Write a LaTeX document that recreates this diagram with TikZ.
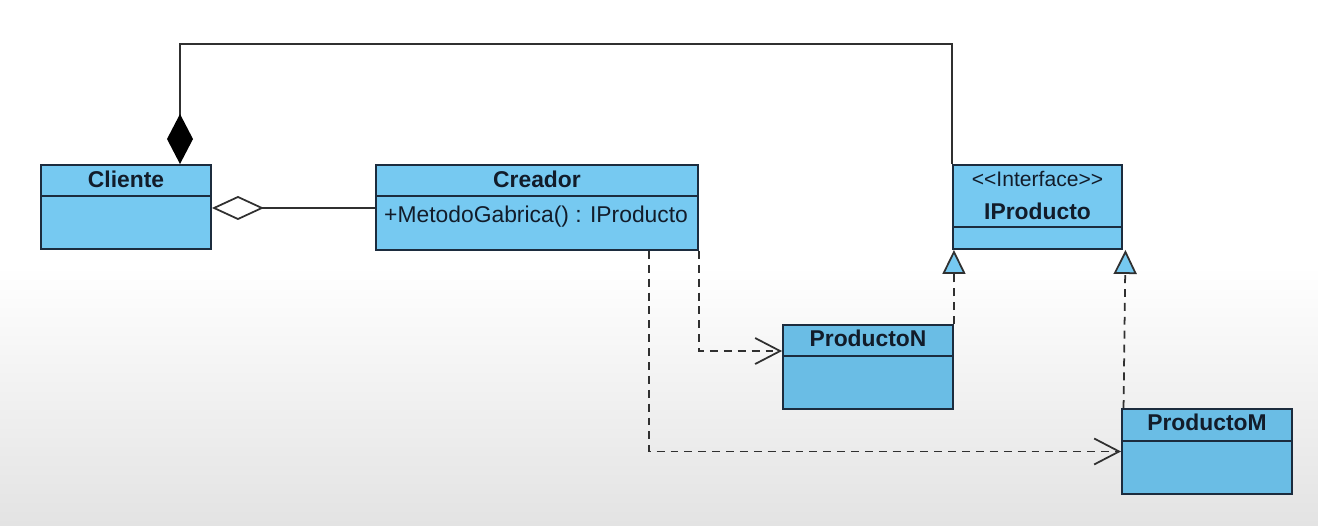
\documentclass[tikz,border=0pt]{standalone}
\usepackage{fontspec}
\setmainfont{Liberation Sans}
\usetikzlibrary{arrows.meta}
\definecolor{umlFond}{RGB}{118,201,241}
\definecolor{umlFondBas}{RGB}{106,189,229}
\definecolor{umlTrait}{RGB}{28,44,62}
\definecolor{umlTexte}{RGB}{18,28,42}
\definecolor{umlLien}{RGB}{48,48,48}

\begin{document}
\begin{tikzpicture}[
  x=1cm, y=1cm, every node/.style={font=\fontsize{13}{15}\selectfont},
  cls/.style={draw=umlTrait, line width=1.1pt, fill=umlFond, inner sep=0pt,
              minimum width=3.4cm, minimum height=1.68cm},
  clsbas/.style={cls, fill=umlFondBas},
  titre/.style={font=\fontsize{13}{15}\selectfont\bfseries, text=umlTexte},
  sep/.style={draw=umlTrait, line width=1.1pt},
  lien/.style={line width=1pt, draw=umlLien},
  dep/.style={lien, dash pattern=on 4.5pt off 3.4pt,
              -{Straight Barb[length=5mm, width=5.2mm]}},
  real/.style={lien, dash pattern=on 4.5pt off 3.4pt,
               -{Triangle[fill=umlFond, length=4.8mm, width=4.6mm]}}
]
% Fond : blanc en haut, degrade gris vers le bas.
\fill[white] (0,0) rectangle (26.36,10.52);
\shade[top color=white, bottom color=black!11] (0,0) rectangle (26.36,5.2);
\useasboundingbox (0,0) rectangle (26.36,10.52);

% Classes
\node[cls] (cliente) at (2.52,6.38) {};
\node[cls, minimum width=6.44cm, minimum height=1.70cm] (creador) at (10.74,6.37) {};
\node[cls, minimum width=3.38cm] (iP) at (20.75,6.38) {};
\node[clsbas] (pN) at (17.36,3.18) {};
\node[clsbas, minimum height=1.70cm] (pM) at (24.14,1.49) {};

\node[titre] (clienteT) at ([yshift=-0.30cm]cliente.north) {Cliente};
\node[titre] (creadorT) at ([yshift=-0.30cm]creador.north) {Creador};
\node[anchor=west, text=umlTexte] (creadorM) at ([xshift=0.06cm, yshift=-1.06cm]creador.north west)
      {+MetodoGabrica() : IProducto};
\node[font=\fontsize{12}{14}\selectfont, text=umlTexte] (iPS) at ([yshift=-0.30cm]iP.north)
      {<\kern0pt<Interface>\kern0pt>};
\node[titre] (iPT) at ([yshift=-0.94cm]iP.north) {IProducto};
\node[titre] (pNT) at ([yshift=-0.29cm]pN.north) {ProductoN};
\node[titre] (pMT) at ([yshift=-0.29cm]pM.north) {ProductoM};

% Separations des compartiments
\draw[sep] ([yshift=-0.64cm]cliente.north west) -- ([yshift=-0.64cm]cliente.north east);
\draw[sep] ([yshift=-0.64cm]creador.north west) -- ([yshift=-0.64cm]creador.north east);
\draw[sep] ([yshift=-1.26cm]iP.north west) -- ([yshift=-1.26cm]iP.north east);
\draw[sep] ([yshift=-0.64cm]pN.north west) -- ([yshift=-0.64cm]pN.north east);
\draw[sep] ([yshift=-0.66cm]pM.north west) -- ([yshift=-0.66cm]pM.north east);

% Liens
\draw[lien, {Diamond[color=black, length=10mm, width=5.2mm]}-]
      ([xshift=1.08cm]cliente.north) -- ++(0,2.40) -| (iP.north west);
\draw[lien, {Diamond[open, length=10.4mm, width=4.8mm]}-]
      ([yshift=-0.02cm]cliente.east) -- ([yshift=-0.02cm]creador.west |- cliente.east);
\draw[dep] (creador.south east) |- ([yshift=-0.54cm]pN.north west);
\draw[dep] ([xshift=-1.0cm]creador.south east) |- (pM.west);
\draw[real] (pN.north east) -- (pN.north east |- iP.south);
\draw[real] ([xshift=0.05cm]pM.north west) -- ([xshift=0.05cm]iP.south east);
\end{tikzpicture}
\end{document}
